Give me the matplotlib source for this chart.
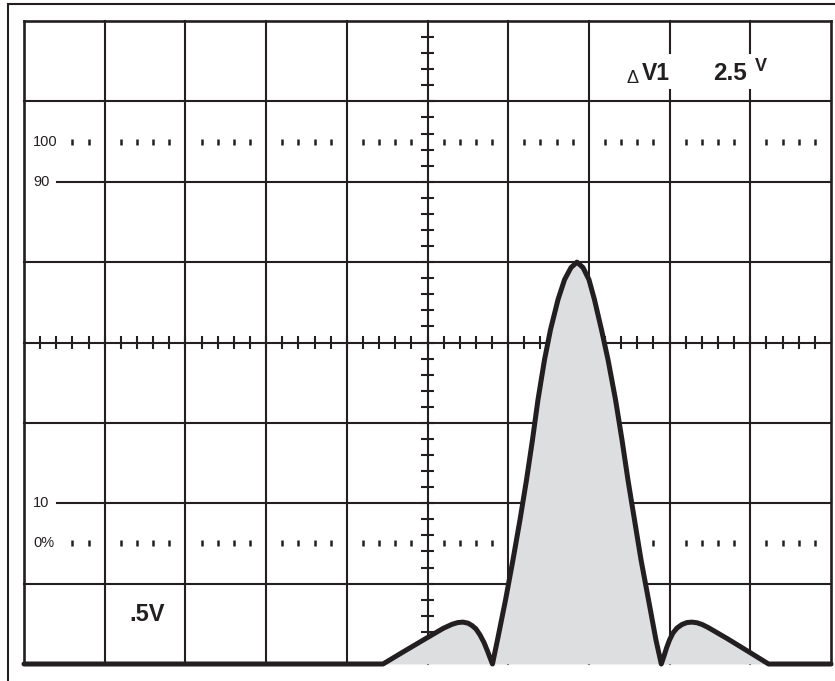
import numpy as np
import matplotlib.pyplot as plt
from matplotlib.patches import Rectangle

# =========================
# DATA (graticule divisions: x 0..10, y 0..8)
# =========================
left_lobe_x = [4.449, 4.696, 4.969, 5.192, 5.304, 5.378, 5.440, 5.502, 5.551,
               5.601, 5.651, 5.700, 5.743, 5.781]
left_lobe_y = [0.0, 0.149, 0.311, 0.442, 0.494, 0.516, 0.521, 0.508, 0.479,
               0.436, 0.361, 0.268, 0.162, 0.062]

main_lobe_x = [5.805, 5.867, 5.967, 6.059, 6.146, 6.227, 6.301, 6.369, 6.450,
               6.524, 6.617, 6.698, 6.778, 6.852, 6.927, 7.001, 7.069, 7.156,
               7.237, 7.330, 7.410, 7.484, 7.565, 7.646, 7.739, 7.831, 7.897]
main_lobe_y = [0.0, 0.299, 0.797, 1.295, 1.793, 2.291, 2.790, 3.288, 3.786,
               4.159, 4.533, 4.782, 4.932, 5.000, 4.932, 4.782, 4.533, 4.159,
               3.786, 3.288, 2.790, 2.291, 1.793, 1.295, 0.797, 0.299, 0.0]

right_lobe_x = [7.931, 7.962, 7.999, 8.042, 8.092, 8.154, 8.216, 8.278, 8.340,
                8.402, 8.476, 8.711, 8.996, 9.226]
right_lobe_y = [0.100, 0.199, 0.299, 0.386, 0.448, 0.492, 0.516, 0.521, 0.513,
                0.492, 0.455, 0.318, 0.143, 0.0]

trace_x = [0.0] + left_lobe_x + main_lobe_x + right_lobe_x + [10.0]
trace_y = [0.0] + left_lobe_y + main_lobe_y + right_lobe_y + [0.0]

pct_labels = ["100", "90", "10", "0%"]
pct_levels = [6.5, 6.0, 2.0, 1.5]

volts_div = ".5V"
delta_label = "V1"
delta_value = "2.5"

# =========================
# STYLE
# =========================
ink = "#231f20"
fill_col = "#dddee0"
grid_lw = 1.5

fig = plt.figure(figsize=(8.35, 6.81), dpi=100)
fig.patch.set_facecolor("white")

# outer frame, cut by the right and bottom edges
fig.add_artist(Rectangle((8 / 835, -0.1), 1.2, 1.1 - 4 / 681, transform=fig.transFigure,
                         fill=False, edgecolor=ink, lw=1.5))

ax = fig.add_axes([24 / 835, 17 / 681, 807 / 835, 643 / 681])
ax.set_xlim(0, 10)
ax.set_ylim(0, 8)
ax.axis("off")

# =========================
# GRATICULE
# =========================
for i in range(11):
    if i in (8, 9):
        # gaps for the readout text
        ax.plot([i, i], [0, 7.14], color=ink, lw=grid_lw, zorder=1, clip_on=False)
        ax.plot([i, i], [7.60, 8], color=ink, lw=grid_lw, zorder=1, clip_on=False)
    else:
        lw = 1.9 if i in (0, 10) else grid_lw
        ax.plot([i, i], [0, 8], color=ink, lw=lw, zorder=1, clip_on=False)

for j in range(1, 9):
    x0 = 0.41 if j in (2, 6) else 0
    lw = 1.9 if j == 8 else grid_lw
    ax.plot([x0, 10], [j, j], color=ink, lw=lw, zorder=1, clip_on=False)

# centre ticks
sub = np.arange(0.2, 10, 0.2)
ax.hlines(sub[sub < 8], 5 - 0.08, 5 + 0.08, color=ink, lw=grid_lw, zorder=1)
ax.vlines(sub, 4 - 0.08, 4 + 0.08, color=ink, lw=grid_lw, zorder=1)

# dotted 0% / 100% rows
dot_x = [c + f for c in range(10) for f in (0.2, 0.4, 0.6, 0.8) if c + f > 0.5]
for lvl in (1.5, 6.5):
    ax.plot(dot_x, [lvl] * len(dot_x), ls="none", marker="|", ms=4, mew=1.8,
            color=ink, zorder=1)

# =========================
# TRACE
# =========================
ax.fill_between(trace_x, trace_y, 0, color=fill_col, lw=0, zorder=2)
ax.plot(trace_x, trace_y, color=ink, lw=3.6, solid_joinstyle="round",
        solid_capstyle="round", zorder=3, clip_on=False)

# =========================
# TEXT
# =========================
font = "Liberation Sans"
for lab, lvl in zip(pct_labels, pct_levels):
    ax.text(0.11, lvl, lab, fontsize=10.5, family=font, color=ink,
            ha="left", va="center")

ax.text(1.52, 0.61, volts_div, fontsize=17, family=font, weight="bold",
        color=ink, ha="center", va="center")

ax.text(7.46, 7.23, "\u0394", fontsize=13, family=font, color=ink,
        ha="left", va="baseline")
ax.text(7.66, 7.27, delta_label, fontsize=16.5, family=font, weight="bold",
        color=ink, ha="left", va="baseline")
ax.text(8.96, 7.27, delta_value, fontsize=17.5, family=font, weight="bold",
        color=ink, ha="right", va="baseline")
ax.text(9.06, 7.38, "V", fontsize=13, family=font, weight="bold",
        color=ink, ha="left", va="baseline")

plt.savefig("out.png", dpi=100)
plt.close()
